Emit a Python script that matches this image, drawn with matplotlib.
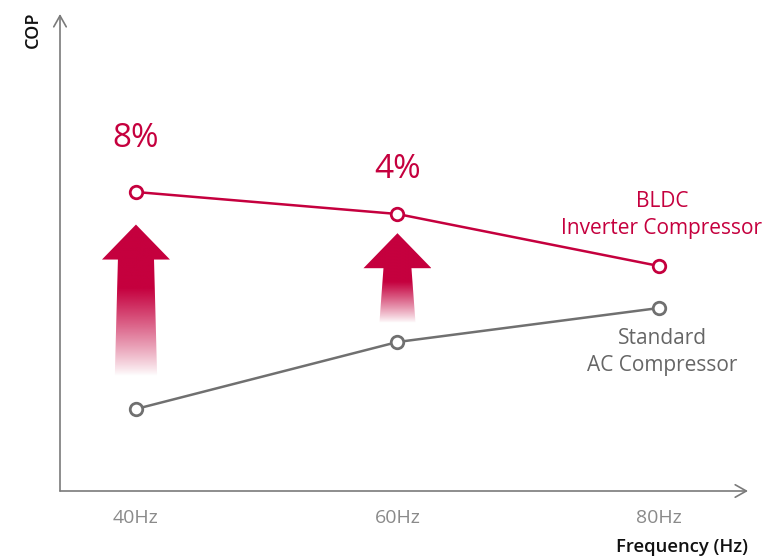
import numpy as np
import matplotlib
matplotlib.use('Agg')
import matplotlib.pyplot as plt
from matplotlib.patches import Polygon

plt.rcParams['font.family'] = ['Open Sans', 'DejaVu Sans']

# Data (COP in arbitrary units)
freqs = [40, 60, 80]
freq_labels = ['40Hz', '60Hz', '80Hz']
bldc_cop = [2.99, 2.77, 2.25]
standard_cop = [0.82, 1.49, 1.83]
gains = ['8%', '4%']

RED = '#c5003e'
GRAY = '#707070'

fig = plt.figure(figsize=(7.64, 5.6), dpi=100)
ax = fig.add_axes([60 / 764, 69 / 560, 688 / 764, 477 / 560])
ax.set_xlim(34.19, 86.81)
ax.set_ylim(0, 4.77)

for s in ax.spines.values():
    s.set_visible(False)
ax.set_yticks([])
ax.set_xticks(freqs)
ax.set_xticklabels(freq_labels, fontsize=14, color='#8a8a8a')
ax.tick_params(axis='x', length=0, pad=13)

# axis arrows
arrow_kw = dict(arrowstyle='->,head_length=0.8,head_width=0.45', color='#7a7a7a', lw=1.2,
                shrinkA=0, shrinkB=0)
ax.annotate('', xy=(1, 0), xytext=(0, 0), xycoords='axes fraction', arrowprops=arrow_kw)
ax.annotate('', xy=(0, 1), xytext=(0, 0), xycoords='axes fraction', arrowprops=arrow_kw)

fig.text(748 / 764, 1 - 547 / 560, 'Frequency (Hz)', ha='right', va='center', fontsize=13.3,
         color='#111111', fontweight='semibold')
fig.text(33 / 764, 1 - 30 / 560, 'COP', rotation=90, ha='center', va='center', fontsize=13,
         color='#111111', fontweight='semibold')

# gradient arrows between the two curves
shaft_top = [1.38, 1.07]
shaft_bot = [1.62, 1.38]
head_hw = 2.6
head_len = 0.35
pct_offset = [53, 44]
for i, gain in enumerate(gains):
    x0 = freqs[i]
    gap = bldc_cop[i] - standard_cop[i]
    yt = bldc_cop[i] - 0.15 * gap
    yb = standard_cop[i] + 0.15 * gap
    yh = yt - head_len
    verts = [(x0 - shaft_bot[i], yb), (x0 - shaft_top[i], yh), (x0 - head_hw, yh), (x0, yt),
             (x0 + head_hw, yh), (x0 + shaft_top[i], yh), (x0 + shaft_bot[i], yb)]
    poly = Polygon(verts, closed=True, facecolor='none', edgecolor='none')
    ax.add_patch(poly)
    n = 300
    ys = np.linspace(yt, yb, n)
    fade_start = yh - 0.25 * (yh - yb)
    alpha = np.clip((ys - yb) / (fade_start - yb), 0, 1) ** 0.9
    rgba = np.zeros((n, 1, 4))
    rgba[..., :3] = matplotlib.colors.to_rgb(RED)
    rgba[:, 0, 3] = alpha
    im = ax.imshow(rgba, extent=[x0 - head_hw, x0 + head_hw, yb, yt], aspect='auto',
                   origin='upper', zorder=2)
    im.set_clip_path(poly)
    ax.annotate(gain, xy=(x0, bldc_cop[i]), xytext=(0, pct_offset[i]), textcoords='offset pixels',
                ha='center', va='center', fontsize=24, color=RED)

ax.set_xlim(34.19, 86.81)
ax.set_ylim(0, 4.77)

mk = dict(marker='o', markersize=9, markerfacecolor='white', markeredgewidth=2, lw=1.8, zorder=3)
ax.plot(freqs, bldc_cop, color=RED, markeredgecolor=RED, **mk)
ax.plot(freqs, standard_cop, color=GRAY, markeredgecolor=GRAY, **mk)

ax.annotate('BLDC\nInverter Compressor', xy=(freqs[-1], bldc_cop[-1]), xytext=(3, 51),
            textcoords='offset pixels', ha='center', va='center', fontsize=15, color=RED,
            linespacing=1.35)
ax.annotate('Standard\nAC Compressor', xy=(freqs[-1], standard_cop[-1]), xytext=(3, -44),
            textcoords='offset pixels', ha='center', va='center', fontsize=15, color='#666666',
            linespacing=1.35)

fig.savefig('out.png', dpi=100)
